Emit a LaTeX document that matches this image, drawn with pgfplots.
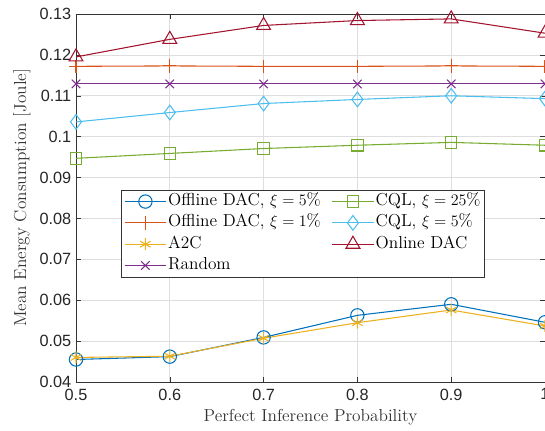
\documentclass[border=0pt]{standalone}
\usepackage{fontspec}
\usepackage{pgfplots}
\pgfplotsset{compat=1.18}
\newfontfamily\arial{Liberation Sans}
\definecolor{mblue}{rgb}{0,0.447,0.741}
\definecolor{morange}{rgb}{0.85,0.325,0.098}
\definecolor{myellow}{rgb}{0.929,0.694,0.125}
\definecolor{mpurple}{rgb}{0.494,0.184,0.556}
\definecolor{mgreen}{rgb}{0.466,0.674,0.188}
\definecolor{mcyan}{rgb}{0.301,0.745,0.933}
\definecolor{mred}{rgb}{0.635,0.078,0.184}
\begin{document}
\begin{tikzpicture}
\begin{axis}[name=ax,
  scale only axis, width=351.75pt, height=276pt,
  xmin=0.5, xmax=1, ymin=0.04, ymax=0.13,
  xtick={0.5,0.6,0.7,0.8,0.9,1},
  ytick={0.04,0.05,0.06,0.07,0.08,0.09,0.1,0.11,0.12,0.13},
  xticklabels={0.5,0.6,0.7,0.8,0.9,1},
  yticklabels={0.04,0.05,0.06,0.07,0.08,0.09,0.1,0.11,0.12,0.13},
  tick label style={font=\arial\fontsize{12.2}{14}\selectfont, text=black!85},
  xticklabel style={yshift=-1.5pt},
  /pgf/number format/assume math mode=true,
  tick align=inside, major tick length=4pt,
  axis line style={black!80, line width=0.5pt},
  every tick/.style={black!80},
  grid=major, grid style={black!13, line width=0.5pt},
  xlabel={Perfect Inference Probability},
  ylabel={Mean Energy Consumption [Joule]},
  label style={font=\fontsize{13}{15}\selectfont, text=black!80},
  legend style={at={(0.096,0.522)}, anchor=north west, font=\fontsize{13}{15}\selectfont,
    draw=black!80, line width=0.5pt, inner xsep=2pt, inner ysep=1.5pt, row sep=2pt,
    nodes={inner sep=1pt, text height=9pt, text depth=3pt},
    /tikz/column 2/.style={column sep=7pt},
    cells={anchor=west}},
  legend columns=2,
  legend cell align=left,
  legend image code/.code={\draw[mark repeat=2, mark phase=2] plot coordinates {(0cm,0cm) (0.55cm,0cm) (1.1cm,0cm)};},
  every axis plot/.append style={line width=0.8pt},
]
\addplot[mblue, mark=o, mark size=5pt] coordinates {(0.5,0.0455) (0.6,0.0462) (0.7,0.0509) (0.8,0.0563) (0.9,0.0590) (1,0.0546)};
\addlegendentry{Offline DAC, $\xi=5\%$}
\addplot[mgreen, mark=square, mark size=4.3pt] coordinates {(0.5,0.0947) (0.6,0.0959) (0.7,0.0971) (0.8,0.0979) (0.9,0.0986) (1,0.0979)};
\addlegendentry{CQL, $\xi=25\%$}
\addplot[morange, mark=+, mark size=5pt] coordinates {(0.5,0.1172) (0.6,0.1173) (0.7,0.1172) (0.8,0.1172) (0.9,0.1173) (1,0.1172)};
\addlegendentry{Offline DAC, $\xi=1\%$}
\addplot[mcyan, mark=diamond, mark size=5.5pt] coordinates {(0.5,0.1036) (0.6,0.1059) (0.7,0.1081) (0.8,0.1091) (0.9,0.1100) (1,0.1093)};
\addlegendentry{CQL, $\xi=5\%$}
\addplot[myellow, mark=asterisk, mark size=4.5pt] coordinates {(0.5,0.0460) (0.6,0.0463) (0.7,0.0507) (0.8,0.0545) (0.9,0.0576) (1,0.0537)};
\addlegendentry{A2C}
\addplot[mred, mark=triangle, mark size=6pt] coordinates {(0.5,0.1195) (0.6,0.1238) (0.7,0.1272) (0.8,0.1284) (0.9,0.1288) (1,0.1253)};
\addlegendentry{Online DAC}
\addplot[mpurple, mark=x, mark size=4.5pt] coordinates {(0.5,0.1129) (0.6,0.1129) (0.7,0.1129) (0.8,0.1129) (0.9,0.1129) (1,0.1129)};
\addlegendentry{Random}
\end{axis}
\pgfresetboundingbox
\path ([xshift=-57pt,yshift=-36.75pt]ax.south west) rectangle ([yshift=10.5pt]ax.north east);
\end{tikzpicture}
\end{document}
